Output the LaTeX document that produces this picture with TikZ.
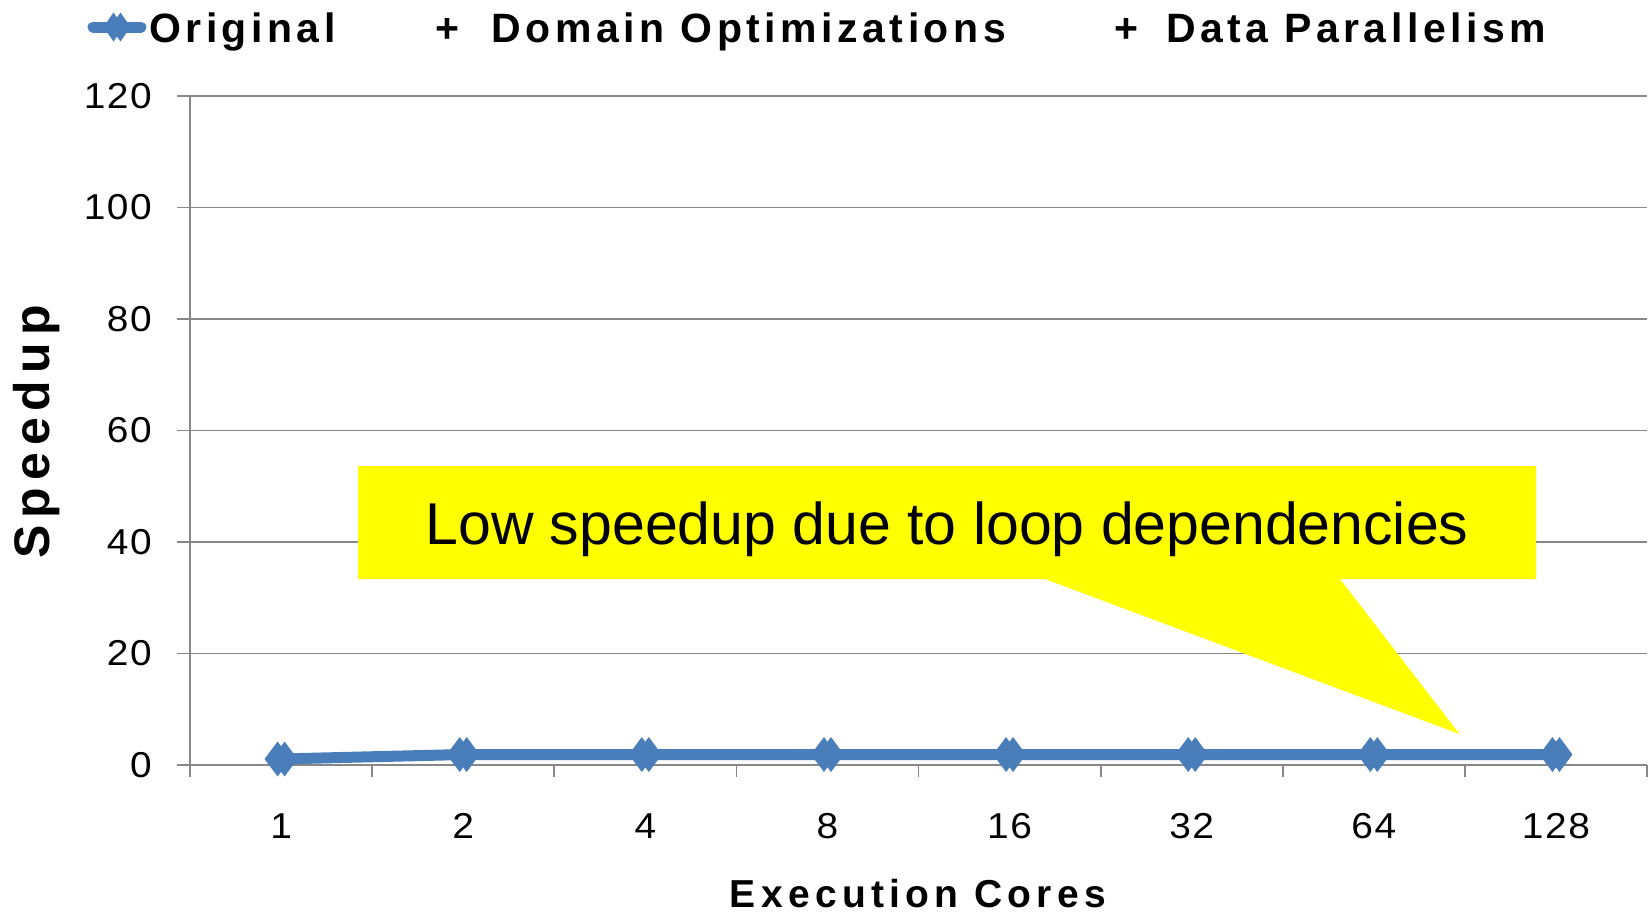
\documentclass[tikz,border=0pt]{standalone}
\usepackage{fontspec}
\usepackage{graphicx}
\setmainfont{Liberation Sans}
\usetikzlibrary{calc}
\definecolor{series}{HTML}{4A7EBB}
\definecolor{gridgray}{HTML}{878787}
\definecolor{calloutyellow}{HTML}{FFFF00}

% two slightly offset diamond markers around a coordinate
\newcommand\markpair[3]{%
  \foreach \dx in {-3.5,3.5}{%
    \fill[series] ($(#1)+(\dx-#2,0)$) -- ($(#1)+(\dx,-#3)$) --
      ($(#1)+(\dx+#2,0)$) -- ($(#1)+(\dx,#3)$) -- cycle;}}
% slightly widened numerals for the axis labels
\newcommand\widenum[1]{\scalebox{1.08}[1]{#1}}

\begin{document}
\begin{tikzpicture}[x=1pt,y=-1pt,
  gridline/.style={draw=gridgray,line width=1.75pt},
  serline/.style={draw=series,line width=11pt,line join=round},
  legendtxt/.style={font=\fontsize{41}{41}\selectfont\bfseries\addfontfeature{LetterSpace=11},
    inner sep=0pt,anchor=base west},
  ticklab/.style={font=\fontsize{36}{36}\selectfont\addfontfeature{LetterSpace=4},inner sep=0pt},
  axistitle/.style={font=\fontsize{39}{39}\selectfont\bfseries\addfontfeature{LetterSpace=13.5},
    inner sep=0pt,anchor=base},
  vtitle/.style={font=\fontsize{50}{50}\selectfont\bfseries\addfontfeature{LetterSpace=14},
    inner sep=0pt,anchor=base,rotate=90},
  callouttxt/.style={font=\fontsize{59}{59}\selectfont,inner sep=0pt,anchor=base}]

\useasboundingbox[fill=white] (0,0) rectangle (1652,913);

% horizontal gridlines with their left ticks
\foreach \v in {20,40,...,120}
  \draw[gridline] (177,{765-\v*5.575}) -- (1647,{765-\v*5.575});

% axes and category ticks
\draw[gridline] (190,96) -- (190,777);
\draw[gridline] (177,765) -- (1647,765);
\foreach \k in {1,...,8}
  \draw[gridline] ({190+182.125*\k},765) -- ++(0,12);

% value axis labels
\foreach \v in {0,20,...,120}
  \node[ticklab,anchor=east] (y\v) at (152,{765-\v*5.575}) {\widenum{\v}};

% category axis labels
\foreach \lab [count=\i] in {1,2,4,8,16,32,64,128}
  \node[ticklab] (x\i) at ({190+182.125*(\i-0.5)},826) {\widenum{\lab}};

% axis titles
\node[vtitle] (ytitle) at (49,432) {Speedup};
\node[axistitle] (xtitle) at (918,907) {Execution Cores};

% callout
\fill[calloutyellow] (358,466) -- (1536,466) -- (1536,579) -- (1340,579)
  -- (1459.5,734) -- (1045,579) -- (358,579) -- cycle;
\node[callouttxt] (note) at (947,544) {Low speedup due to loop dependencies};

% data series
\foreach \v [count=\i] in {1.08,1.88,1.88,1.88,1.88,1.88,1.88,1.88}
  \coordinate (p\i) at ({190+182.125*(\i-0.5)},{765-\v*5.575});
\draw[serline] (p1) -- (p2) -- (p3) -- (p4) -- (p5) -- (p6) -- (p7) -- (p8);
\foreach \i in {1,...,8} {\markpair{p\i}{13}{17.5}}

% legend
\coordinate (lgA) at (93,27);
\coordinate (lgB) at (141,27);
\coordinate (lgM) at (117,27);
\draw[serline,line cap=round] (lgA) -- (lgB);
\markpair{lgM}{10}{14.5}
\node[legendtxt] (lg1) at (149,42.7) {Original};
\node[legendtxt] (lg2p) at (435.5,42.7) {+};
\node[legendtxt] (lg2) at (491.7,42.7) {Domain Optimizations};
\node[legendtxt] (lg3p) at (1114.5,42.7) {+};
\node[legendtxt] (lg3) at (1165.8,42.7) {Data Parallelism};
\end{tikzpicture}
\end{document}
